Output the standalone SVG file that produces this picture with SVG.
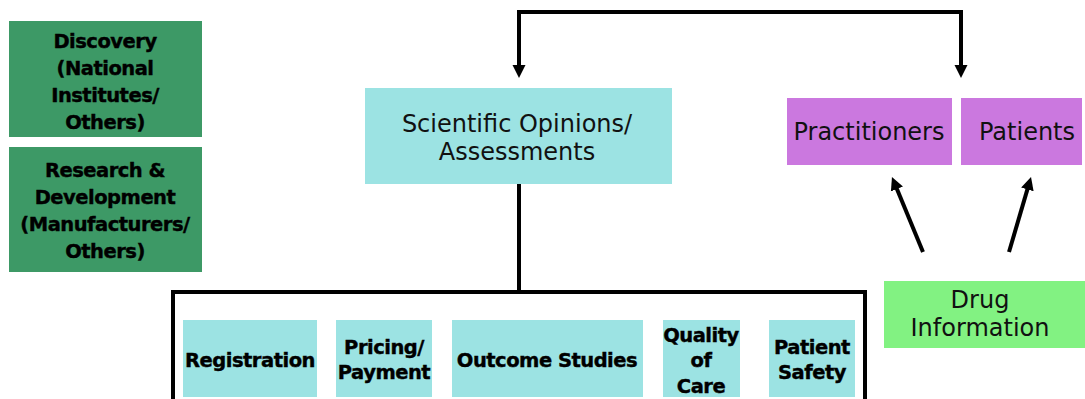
<svg xmlns="http://www.w3.org/2000/svg" width="1085" height="399" viewBox="0 0 1085 399">
<style>
.dg{fill:#3d9966}
.cy{fill:#9ce3e3}
.pu{fill:#cb78df}
.lg{fill:#82f282}
.b{font-family:"DejaVu Sans",Verdana,sans-serif;font-weight:bold;font-size:19.5px;letter-spacing:-0.5px;fill:#000;stroke:#000;stroke-width:0.4;text-anchor:middle}
.r{font-family:"DejaVu Sans",Verdana,sans-serif;font-size:24px;fill:#111;text-anchor:middle}
.ln{fill:none;stroke:#000;stroke-width:4}
</style>
<defs>
<marker id="ah" markerUnits="userSpaceOnUse" markerWidth="14" markerHeight="14" viewBox="0 0 14 14" refX="4" refY="7" orient="auto-start-reverse">
<path d="M0,0.5 L13,7 L0,13.5 z" fill="#000"/>
</marker>
</defs>
<g id="connectors">
<path class="ln" d="M519,69 V12 H961 V69" marker-start="url(#ah)" marker-end="url(#ah)"/>
<path class="ln" d="M519,184 V292"/>
<path class="ln" d="M173,399 V292 H865 V399"/>
<path class="ln" d="M923,252 L895.4,185.3" marker-end="url(#ah)"/>
<path class="ln" d="M1009,252 L1028.5,185.6" marker-end="url(#ah)"/>
</g>
<g id="discovery">
<rect class="dg" x="9" y="21" width="193" height="116"/>
<text class="b" x="105" y="48">Discovery</text>
<text class="b" x="105" y="75">(National</text>
<text class="b" x="105" y="102">Institutes/</text>
<text class="b" x="105" y="129">Others)</text>
</g>
<g id="research">
<rect class="dg" x="9" y="147" width="193" height="125"/>
<text class="b" x="105" y="177">Research &amp;</text>
<text class="b" x="105" y="204">Development</text>
<text class="b" x="105" y="231">(Manufacturers/</text>
<text class="b" x="105" y="258">Others)</text>
</g>
<g id="scientific">
<rect class="cy" x="365" y="88" width="307" height="96"/>
<text class="r" x="517" y="132">Scientific Opinions/</text>
<text class="r" x="517" y="160">Assessments</text>
</g>
<g id="practitioners">
<rect class="pu" x="787" y="98" width="165" height="67"/>
<text class="r" x="869" y="140">Practitioners</text>
</g>
<g id="patients">
<rect class="pu" x="961" y="98" width="121" height="67"/>
<text class="r" x="1027" y="140">Patients</text>
</g>
<g id="drug-information">
<rect class="lg" x="884" y="281" width="201" height="67"/>
<text class="r" x="980" y="308">Drug</text>
<text class="r" x="980" y="336">Information</text>
</g>
<g id="registration">
<rect class="cy" x="183" y="320" width="134" height="77"/>
<text class="b" x="250" y="367">Registration</text>
</g>
<g id="pricing">
<rect class="cy" x="336" y="320" width="96" height="77"/>
<text class="b" x="384" y="354">Pricing/</text>
<text class="b" x="384" y="379">Payment</text>
</g>
<g id="outcome">
<rect class="cy" x="452" y="320" width="191" height="77"/>
<text class="b" x="547" y="367">Outcome Studies</text>
</g>
<g id="quality">
<rect class="cy" x="663" y="320" width="77" height="77"/>
<text class="b" x="701" y="342">Quality</text>
<text class="b" x="701" y="367">of</text>
<text class="b" x="701" y="393">Care</text>
</g>
<g id="safety">
<rect class="cy" x="769" y="320" width="86" height="77"/>
<text class="b" x="812" y="354">Patient</text>
<text class="b" x="812" y="379">Safety</text>
</g>
</svg>
